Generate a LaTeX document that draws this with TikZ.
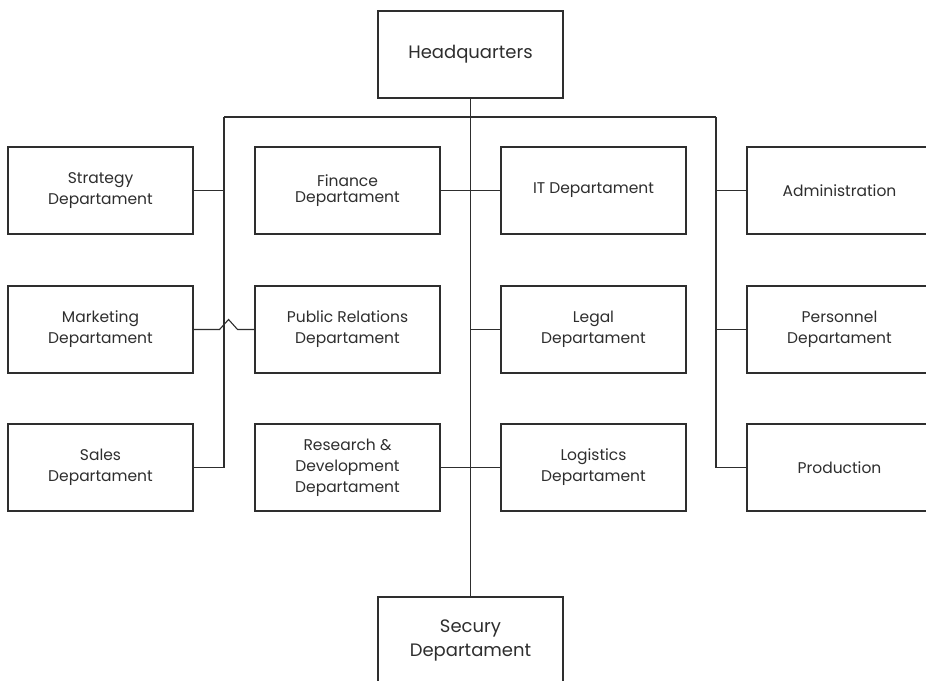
\documentclass[tikz,border=0pt]{standalone}
\usepackage{fontspec}
\setmainfont{Poppins}
\definecolor{ink}{HTML}{2E2E2E}
\begin{document}
\begin{tikzpicture}[x=1pt,y=-1pt,
  line width=1.1pt, draw=ink,
  box/.style={draw=ink, line width=1.1pt, minimum width=185pt, minimum height=87pt,
    inner sep=0pt, align=center, text=ink, font=\fontsize{15.5}{21}\selectfont},
  bigbox/.style={box, font=\fontsize{18}{24}\selectfont}]
\useasboundingbox (0,0) rectangle (926,680);
\clip (0,0) rectangle (926,680);
\fill[white] (0,0) rectangle (926,680);
% nodes
\node[bigbox] (hq) at (470.5,54.5) {Headquarters};
\node[bigbox] (sec) at (470.5,640.5) {Secury\\Departament};
\node[box] (strat) at (100.5,190.5) {Strategy\\Departament};
\node[box, font=\fontsize{15.5}{16}\selectfont] (fin) at (347.5,190.5) {Finance\\Departament};
\node[box] (it) at (593.5,190.5) {IT Departament};
\node[box] (admin) at (839.5,190.5) {Administration};
\node[box] (mkt) at (100.5,329.5) {Marketing\\Departament};
\node[box] (pr) at (347.5,329.5) {Public Relations\\Departament};
\node[box] (legal) at (593.5,329.5) {Legal\\Departament};
\node[box] (pers) at (839.5,329.5) {Personnel\\Departament};
\node[box] (sales) at (100.5,467.5) {Sales\\Departament};
\node[box] (rd) at (347.5,467.5) {Research \&\\Development\\Departament};
\node[box] (log) at (593.5,467.5) {Logistics\\Departament};
\node[box] (prod) at (839.5,467.5) {Production};
% bus
\coordinate (bl) at (224,117);
\coordinate (br) at (716,117);
\draw[ink] (hq.south) -- (sec.north);
\draw[ink] (bl) -- (br);
\draw[ink] (bl) -- (bl |- sales.east) -- (sales.east);
\draw[ink] (br) -- (br |- prod.west) -- (prod.west);
\draw[ink] (strat.east) -- (strat.east -| bl);
\draw[ink] (admin.west) -- (admin.west -| br);
\draw[ink] (pers.west) -- (pers.west -| br);
\draw[ink] (fin.east) -- (it.west);
\draw[ink] (legal.west) -- (legal.west -| hq.south);
\draw[ink] (rd.east) -- (log.west);
\draw[ink] (mkt.east) -- ++(26,0) -- ++(9,-10) -- ++(9,10) -- (pr.west);
\end{tikzpicture}
\end{document}
